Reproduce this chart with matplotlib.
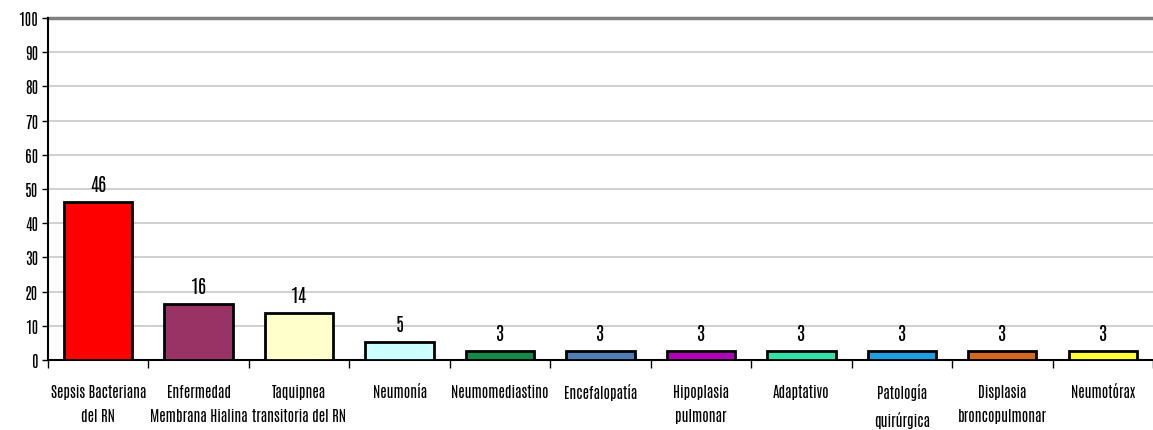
import matplotlib
matplotlib.use("Agg")
import matplotlib.pyplot as plt
from matplotlib import font_manager

categories = [
    "Sepsis Bacteriana\ndel RN",
    "Enfermedad\nMembrana Hialina",
    "Taquipnea\ntransitoria del RN",
    "Neumonía",
    "Neumomediastino",
    "Encefalopatía",
    "Hipoplasia\npulmonar",
    "Adaptativo",
    "Patología\nquirúrgica",
    "Displasia\nbroncopulmonar",
    "Neumotórax",
]
values = [46.2, 16.4, 13.7, 5.2, 2.6, 2.6, 2.6, 2.6, 2.6, 2.6, 2.6]
colors = ["#ff0000", "#993366", "#ffffcc", "#ccffff", "#118a4a", "#4f7db4",
          "#b000b8", "#33e0a8", "#1e9ee0", "#d2691e", "#ffff33"]

# tall narrow sans, the original looks like a stretched Arial Narrow
names = {f.name for f in font_manager.fontManager.ttflist}
fam = "DejaVu Sans"
for cand in ["Antonio", "Oswald", "Barlow Condensed", "Archivo Narrow"]:
    if cand in names:
        fam = cand
        break
plt.rcParams["font.family"] = [fam, "DejaVu Sans"]

fig = plt.figure(figsize=(11.53, 4.31), dpi=100)
ax = fig.add_axes([0.0416, 0.1624, 0.9584, 0.7936])
renderer = fig.canvas.get_renderer()


def fit_size(s, target_px, **kw):
    t = fig.text(0, 0, s, fontsize=10, **kw)
    w = t.get_window_extent(renderer).width
    t.remove()
    return 10 * target_px / w


lab_fs = fit_size("Sepsis Bacteriana", 96, fontweight=500)
val_fs = fit_size("46", 16, fontweight="bold")
ytk_fs = fit_size("100", 20, fontweight=500)

x = list(range(len(categories)))
ax.bar(x, values, width=0.68, color=colors, edgecolor="black", linewidth=2, zorder=3)
for xi, v in zip(x, values):
    ax.text(xi, v + 2.6, f"{v:.0f}", ha="center", va="bottom",
            fontsize=val_fs, fontweight="bold", zorder=4)

ax.set_xlim(-0.5, len(categories) - 0.5)
ax.set_ylim(0, 100)
ax.set_yticks(range(0, 101, 10))
ax.set_yticklabels([str(v) for v in range(0, 101, 10)], fontweight=500)
for yv in range(10, 100, 10):
    ax.axhline(yv, color="#c8c8c8", linewidth=1.2, zorder=1)
ax.axhline(100, color="#808080", linewidth=2.5, zorder=2, clip_on=False)

ax.set_xticks([i - 0.5 for i in x] + [len(x) - 0.5])
ax.set_xticklabels([])
ax.set_xticks(x, minor=True)
ax.set_xticklabels(categories, minor=True, fontsize=lab_fs, fontweight=500,
                   linespacing=1.7, va="top")
ax.tick_params(axis="x", which="major", length=6, width=1, direction="out")
ax.tick_params(axis="x", which="minor", length=0, pad=17)
ax.tick_params(axis="y", length=4, width=1, labelsize=ytk_fs, pad=3)

for s in ["top", "right"]:
    ax.spines[s].set_visible(False)
ax.spines["left"].set_linewidth(1.5)
ax.spines["bottom"].set_linewidth(1.5)

fig.savefig("out.png", dpi=100)
